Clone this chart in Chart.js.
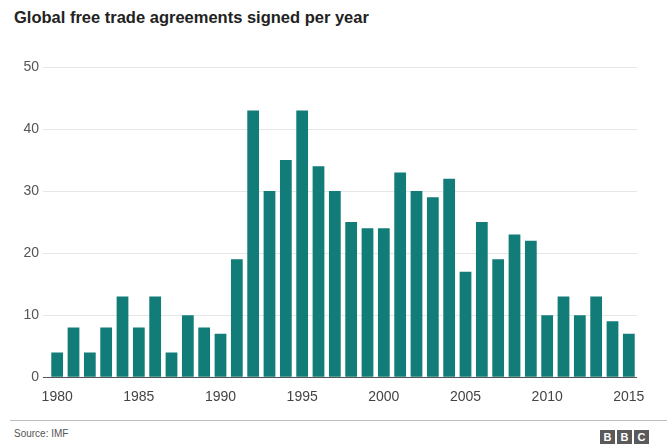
<!DOCTYPE html>
<html>
<head>
<meta charset="utf-8">
<script src="https://cdn.jsdelivr.net/npm/chart.js@4/dist/chart.umd.min.js"></script>
<style>
    body { margin: 0; background: #fff; font-family: "Liberation Sans", Arial, sans-serif; }
    #page { position: relative; width: 667px; height: 445px; overflow: hidden; }
    #title { position: absolute; left: 14px; top: 8px; font-size: 16.5px; font-weight: bold; color: #222; }
    #chartBox { position: absolute; left: 0; top: 50px; width: 667px; height: 360px; }
    #rule { position: absolute; left: 10px; right: 0; top: 420px; height: 1px; background: #bdbdbd; }
    #source { position: absolute; left: 14px; top: 428px; font-size: 10px; color: #555; }
    #bbc { position: absolute; left: 600px; top: 427px; }
    #bbc span { display: inline-block; width: 15px; height: 14px; margin-right: 2px; background: #5a5a5a;
        color: #fff; font-weight: bold; font-size: 11px; line-height: 14px; text-align: center; }
</style>
</head>
<body>
<div id="page">
    <div id="title">Global free trade agreements signed per year</div>
    <div id="chartBox"><canvas id="chart"></canvas></div>
    <div id="rule"></div>
    <div id="source">Source: IMF</div>
    <div id="bbc"><span>B</span><span>B</span><span>C</span></div>
</div>
<script>
const years = [1980, 1981, 1982, 1983, 1984, 1985, 1986, 1987, 1988, 1989,
               1990, 1991, 1992, 1993, 1994, 1995, 1996, 1997, 1998, 1999,
               2000, 2001, 2002, 2003, 2004, 2005, 2006, 2007, 2008, 2009,
               2010, 2011, 2012, 2013, 2014, 2015];
const agreements = [4, 8, 4, 8, 13, 8, 13, 4, 10, 8,
                    7, 19, 43, 30, 35, 43, 34, 30, 25, 24,
                    24, 33, 30, 29, 32, 17, 25, 19, 23, 22,
                    10, 13, 10, 13, 9, 7];
const yTicks = [0, 10, 20, 30, 40, 50];

const ctx = document.getElementById('chart').getContext('2d');
new Chart(ctx, {
    type: 'bar',
    data: {
        labels: years,
        datasets: [{
            label: 'Agreements',
            data: agreements,
            backgroundColor: '#117c78',
            barPercentage: 0.72,
            categoryPercentage: 1.0
        }]
    },
    options: {
        responsive: true,
        maintainAspectRatio: false,
        animation: false,
        layout: { padding: { top: 17, right: 30, bottom: 0, left: 0 } },
        plugins: {
            legend: { display: false },
            tooltip: { enabled: false }
        },
        scales: {
            x: {
                grid: { display: false },
                border: { display: false },
                ticks: {
                    autoSkip: false,
                    maxRotation: 0,
                    color: '#444',
                    font: { family: 'Liberation Sans', size: 14 },
                    padding: 4,
                    callback: function(value, index) {
                        const y = years[index];
                        return y % 5 === 0 ? String(y) : '';
                    }
                }
            },
            y: {
                min: 0,
                max: 50,
                afterBuildTicks: function(scale) {
                    scale.ticks = yTicks.map(v => ({ value: v }));
                },
                afterFit: function(scale) { scale.width = 49; },
                border: { display: false },
                grid: {
                    color: c => (c.tick && c.tick.value === 0) ? '#555' : '#e6e6e6',
                    tickLength: 6
                },
                ticks: {
                    color: '#555',
                    font: { family: 'Liberation Sans', size: 14 },
                    padding: 4
                }
            }
        }
    }
});
</script>
</body>
</html>
